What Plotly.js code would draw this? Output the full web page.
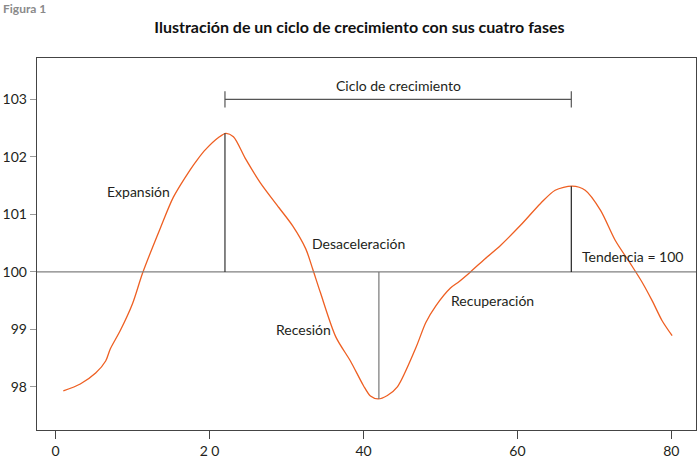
<!DOCTYPE html>
<html>
<head>
<meta charset="utf-8">
<script src="https://cdn.plot.ly/plotly-3.0.1.min.js"></script>
<style>html,body{margin:0;padding:0;background:#fff;}#chart{width:698px;height:461px;}</style>
</head>
<body>
<div id="chart"></div>
<script>
// Data
const periodo = [1, 3.2, 5.2, 6.5, 7.1, 8.4, 10, 11.3, 13.6, 15.3, 17.5, 18.4, 19.5, 21.2, 22.1, 23.1, 24.7, 26.6, 29.0, 30.8, 32.5, 33.4, 34.4, 36.4, 38.3, 40.0, 40.9, 41.9, 43.1, 44.4, 46.8, 48.1, 49.4, 51.3, 52.4, 53.9, 55.8, 57.8, 60.4, 63.0, 64.9, 67.1, 68.8, 70.8, 72.7, 74.7, 76.2, 77.5, 78.8, 80.1];
const indice  = [97.93, 98.05, 98.24, 98.45, 98.66, 98.98, 99.45, 99.98, 100.76, 101.3, 101.78, 101.95, 102.13, 102.34, 102.41, 102.35, 101.96, 101.55, 101.12, 100.8, 100.4, 100.05, 99.64, 98.87, 98.45, 98.02, 97.84, 97.79, 97.85, 98.0, 98.68, 99.12, 99.41, 99.72, 99.83, 100.0, 100.23, 100.46, 100.81, 101.19, 101.42, 101.49, 101.42, 101.07, 100.55, 100.14, 99.82, 99.5, 99.15, 98.89];
const tendencia = 100;
const picoX = 22, picoY = 102.41;
const valleX = 42, valleY = 97.79;
const pico2X = 67, pico2Y = 101.49;
const cicloY = 103.0;
const xTicks = [0, 20, 40, 60, 80];
const xTickLabels = ['0', '2 0', '40', '60', '80'];
const yTicks = [98, 99, 100, 101, 102, 103];

const font = 'Lato, "Open Sans", sans-serif';
const txt = '#231f20';

const traces = [{
  x: periodo, y: indice, type: 'scatter', mode: 'lines',
  line: {color: '#ee5f22', width: 1.3, shape: 'spline', smoothing: 0.8},
  hoverinfo: 'skip', showlegend: false
}];

const shapes = [
  {type: 'line', xref: 'paper', x0: 0, x1: 1, yref: 'y', y0: tendencia, y1: tendencia, line: {color: '#808080', width: 1.3}},
  {type: 'line', x0: picoX, x1: picoX, y0: tendencia, y1: picoY, line: {color: '#333', width: 1.2}},
  {type: 'line', x0: valleX, x1: valleX, y0: valleY, y1: tendencia, line: {color: '#777', width: 1.2}},
  {type: 'line', x0: pico2X, x1: pico2X, y0: tendencia, y1: pico2Y, line: {color: '#222', width: 1.2}},
  {type: 'line', x0: picoX, x1: pico2X, y0: cicloY, y1: cicloY, line: {color: '#555', width: 1.2}},
  {type: 'line', x0: picoX, x1: picoX, y0: cicloY - 0.14, y1: cicloY + 0.14, line: {color: '#555', width: 1.2}},
  {type: 'line', x0: pico2X, x1: pico2X, y0: cicloY - 0.14, y1: cicloY + 0.14, line: {color: '#555', width: 1.2}}
];

const ann = (text, x, y, xanchor) => ({text, x, y, xanchor: xanchor || 'center', yanchor: 'middle', showarrow: false, font: {family: font, size: 14, color: txt}});
const annotations = [
  ann('Ciclo de crecimiento', (picoX + pico2X) / 2, 103.25),
  ann('Expansión', 10.8, 101.39),
  ann('Desaceleración', 33.0, 100.49, 'left'),
  ann('Recesión', 32.2, 98.99),
  ann('Recuperación', 56.8, 99.5),
  ann('Tendencia = 100', 68.1, 100.27, 'left'),
  {text: '<b>Figura 1</b>', xref: 'paper', yref: 'paper', x: -0.054, y: 1.133, xanchor: 'left', yanchor: 'middle', showarrow: false, font: {family: font, size: 12, color: '#8a8a8a'}}
];

const layout = {
  width: 698, height: 461,
  margin: {l: 37, r: 2, t: 58, b: 31},
  paper_bgcolor: '#fff', plot_bgcolor: '#fff',
  title: {text: '<b>Ilustración de un ciclo de crecimiento con sus cuatro fases</b>', x: 0.515, xanchor: 'center', y: 0.94, yanchor: 'middle',
    font: {family: font, size: 16, color: '#111'}},
  xaxis: {range: [-2.42, 83.2], tickvals: xTicks, ticktext: xTickLabels, showgrid: false, zeroline: false,
    showline: true, mirror: true, linecolor: '#444', linewidth: 1.3, ticks: 'outside', ticklen: 8, tickcolor: '#444', tickwidth: 1,
    tickfont: {family: font, size: 14, color: txt}},
  yaxis: {range: [97.25, 103.72], tickvals: yTicks, showgrid: false, zeroline: false,
    showline: true, mirror: true, linecolor: '#444', linewidth: 1.3, ticks: 'outside', ticklen: 6, tickcolor: '#999', tickwidth: 1,
    tickfont: {family: font, size: 14, color: txt}},
  shapes, annotations
};

Plotly.newPlot('chart', traces, layout, {displayModeBar: false, staticPlot: true});
</script>
</body>
</html>
